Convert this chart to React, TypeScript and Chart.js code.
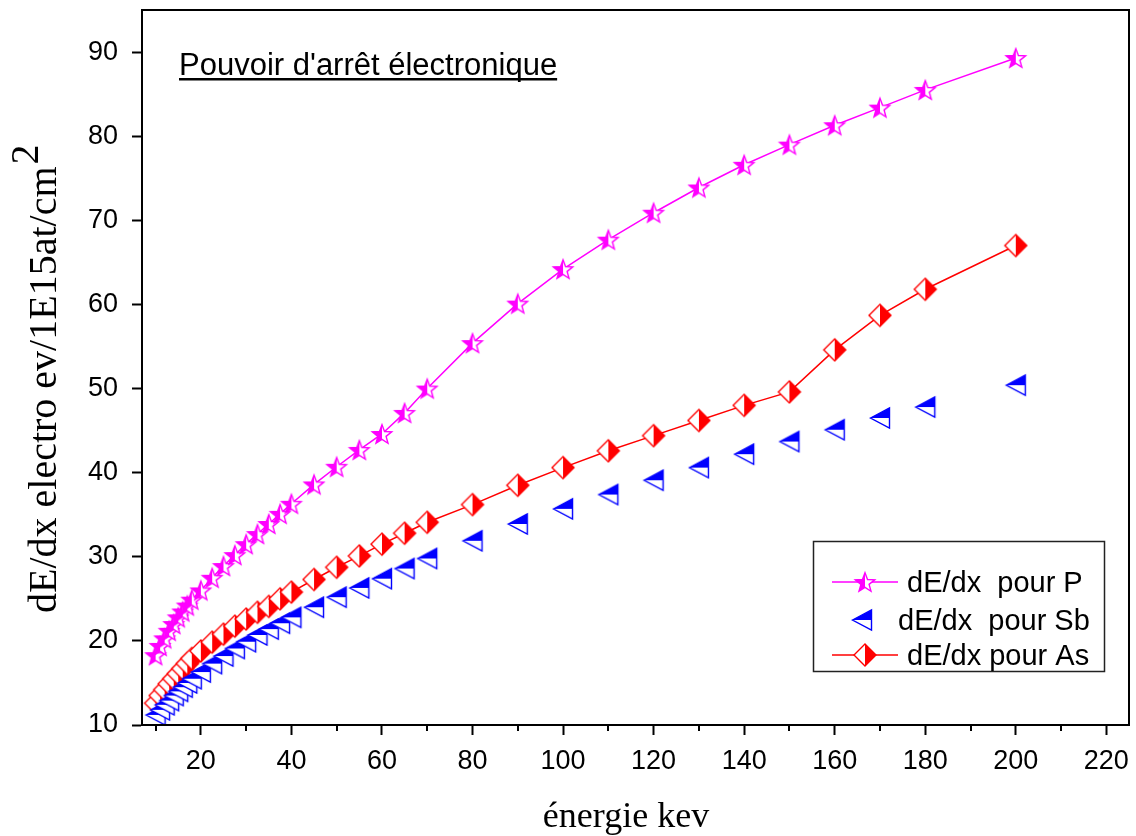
import React, { useEffect, useRef } from 'react';
import { Chart, registerables } from 'chart.js';

Chart.register(...registerables);

// Energies (keV) at which the stopping powers were tabulated
const energies = [10, 11, 12, 13, 14, 15, 16, 17, 18, 20, 22.5, 25, 27.5, 30, 32.5, 35, 37.5, 40, 45, 50, 55, 60, 65, 70, 80, 90, 100, 110, 120, 130, 140, 150, 160, 170, 180, 200];

// Electronic stopping power (eV / 1E15 at/cm2)
const stopP = [18.3, 19.4, 20.3, 21.2, 22.0, 22.8, 23.5, 24.2, 24.9, 26.0, 27.5, 28.9, 30.2, 31.5, 32.7, 33.9, 35.1, 36.3, 38.6, 40.7, 42.7, 44.6, 47.1, 50.0, 55.4, 60.1, 64.2, 67.7, 70.9, 73.9, 76.6, 79.0, 81.3, 83.4, 85.5, 89.3];
const stopSb = [11.2, 11.8, 12.4, 12.9, 13.5, 14.0, 14.5, 15.0, 15.5, 16.3, 17.3, 18.2, 19.1, 19.9, 20.7, 21.4, 22.1, 22.8, 24.0, 25.2, 26.3, 27.4, 28.6, 29.8, 31.9, 33.9, 35.7, 37.4, 39.1, 40.6, 42.2, 43.7, 45.1, 46.5, 47.8, 50.4];
const stopAs = [12.6, 13.5, 14.2, 14.9, 15.5, 16.1, 16.7, 17.3, 17.9, 18.8, 19.85, 20.8, 21.75, 22.6, 23.4, 24.1, 25.0, 25.8, 27.3, 28.75, 30.1, 31.5, 32.8, 34.1, 36.2, 38.5, 40.6, 42.6, 44.4, 46.2, 48.0, 49.6, 54.6, 58.7, 61.8, 67.0];

const xTickValues = [20, 40, 60, 80, 100, 120, 140, 160, 180, 200, 220];
const xMinorTickValues = [10, 30, 50, 70, 90, 110, 130, 150, 170, 190, 210];
const yTickValues = [10, 20, 30, 40, 50, 60, 70, 80, 90];

const seriesLabels = ['dE/dx  pour P', 'dE/dx  pour Sb', 'dE/dx pour As'];
const chartTitle = "Pouvoir d'arrêt électronique";
const xAxisTitle = 'énergie kev';
const yAxisTitle = 'dE/dx electro ev/1E15at/cm';
const yAxisTitleSup = '2';

const MAGENTA = '#ff00ff';
const BLUE = '#0000ff';
const RED = '#ff0000';
const SANS = '"Liberation Sans", Arial, sans-serif';
const SERIF = '"Liberation Serif", "Times New Roman", serif';

type Drawer = (ctx: CanvasRenderingContext2D, c: number) => void;

function halfMarker(size: number, path: Drawer, color: string, clip: (ctx: CanvasRenderingContext2D, c: number) => void) {
  const cv = document.createElement('canvas');
  cv.width = size;
  cv.height = size;
  const ctx = cv.getContext('2d')!;
  const c = size / 2;
  path(ctx, c);
  ctx.fillStyle = '#ffffff';
  ctx.fill();
  ctx.save();
  clip(ctx, c);
  path(ctx, c);
  ctx.fillStyle = color;
  ctx.fill();
  ctx.restore();
  path(ctx, c);
  ctx.strokeStyle = color;
  ctx.lineWidth = 1.4;
  ctx.lineJoin = 'miter';
  ctx.stroke();
  return cv;
}

const starPath: Drawer = (ctx, c) => {
  const R = 10.2;
  const r = 4.3;
  const cy = c + 1;
  ctx.beginPath();
  for (let i = 0; i < 10; i++) {
    const a = -Math.PI / 2 + (i * Math.PI) / 5;
    const rad = i % 2 === 0 ? R : r;
    const x = c + rad * Math.cos(a);
    const y = cy + rad * Math.sin(a);
    if (i === 0) ctx.moveTo(x, y);
    else ctx.lineTo(x, y);
  }
  ctx.closePath();
};

const trianglePath: Drawer = (ctx, c) => {
  ctx.beginPath();
  ctx.moveTo(c - 9.5, c);
  ctx.lineTo(c + 9.5, c - 10);
  ctx.lineTo(c + 9.5, c + 10);
  ctx.closePath();
};

const diamondPath: Drawer = (ctx, c) => {
  ctx.beginPath();
  ctx.moveTo(c, c - 11);
  ctx.lineTo(c + 11, c);
  ctx.lineTo(c, c + 11);
  ctx.lineTo(c - 11, c);
  ctx.closePath();
};

function makeMarkers() {
  const size = 28;
  const star = halfMarker(size, starPath, MAGENTA, (ctx, c) => {
    ctx.beginPath();
    ctx.rect(0, 0, c, size);
    ctx.clip();
  });
  const tri = halfMarker(size, trianglePath, BLUE, (ctx, c) => {
    ctx.beginPath();
    ctx.rect(0, 0, size, c);
    ctx.clip();
  });
  const dia = halfMarker(size, diamondPath, RED, (ctx, c) => {
    ctx.beginPath();
    ctx.rect(c, 0, size, size);
    ctx.clip();
  });
  return { star, tri, dia };
}

export default function App() {
  const canvasRef = useRef<HTMLCanvasElement | null>(null);

  useEffect(() => {
    const canvas = canvasRef.current;
    if (!canvas) return;
    const { star, tri, dia } = makeMarkers();
    const toPoints = (ys: number[]) => energies.map((x, i) => ({ x, y: ys[i] }));

    const decor = {
      id: 'decor',
      afterDraw(chart: any) {
        const { ctx, chartArea: a, scales } = chart;
        ctx.save();
        // plot frame
        ctx.strokeStyle = '#000';
        ctx.lineWidth = 2;
        ctx.strokeRect(a.left, a.top, a.right - a.left, a.bottom - a.top);
        // minor ticks on the energy axis
        ctx.beginPath();
        xMinorTickValues.forEach((v) => {
          const px = Math.round(scales.x.getPixelForValue(v));
          ctx.moveTo(px, a.bottom);
          ctx.lineTo(px, a.bottom + 6);
        });
        ctx.stroke();

        // title, underlined
        ctx.fillStyle = '#000';
        ctx.font = `31px ${SANS}`;
        ctx.textAlign = 'left';
        ctx.textBaseline = 'alphabetic';
        ctx.fillText(chartTitle, 179, 75);
        const tw = ctx.measureText(chartTitle).width;
        ctx.fillRect(179, 78, tw, 2.5);

        // x axis title
        ctx.font = `36px ${SERIF}`;
        ctx.textAlign = 'center';
        ctx.fillText(xAxisTitle, 626, 827);

        // y axis title with superscript
        ctx.save();
        ctx.translate(56, 613);
        ctx.rotate(-Math.PI / 2);
        ctx.font = `40px ${SERIF}`;
        ctx.textAlign = 'left';
        ctx.fillText(yAxisTitle, 0, 0);
        const yw = ctx.measureText(yAxisTitle).width;
        ctx.fillText(yAxisTitleSup, yw + 2, -18);
        ctx.restore();

        // legend
        ctx.lineWidth = 1.5;
        ctx.strokeStyle = '#222';
        ctx.strokeRect(813.5, 541.5, 291, 130);
        ctx.font = `29px ${SANS}`;
        ctx.textAlign = 'left';
        ctx.textBaseline = 'middle';
        const rows = [
          { y: 582, line: MAGENTA, img: star, mx: 865, tx: 907 },
          { y: 620, line: null, img: tri, mx: 862, tx: 898 },
          { y: 655, line: RED, img: dia, mx: 865, tx: 907 },
        ];
        rows.forEach((r, i) => {
          if (r.line) {
            ctx.strokeStyle = r.line;
            ctx.lineWidth = 1.5;
            ctx.beginPath();
            ctx.moveTo(832, r.y);
            ctx.lineTo(898, r.y);
            ctx.stroke();
          }
          ctx.drawImage(r.img, r.mx - r.img.width / 2, r.y - r.img.height / 2);
          ctx.fillStyle = '#000';
          ctx.fillText(seriesLabels[i], r.tx, r.y + 2);
        });
        ctx.restore();
      },
    };

    const chart = new Chart(canvas, {
      type: 'scatter',
      data: {
        datasets: [
          {
            label: seriesLabels[0],
            data: toPoints(stopP),
            showLine: true,
            borderColor: MAGENTA,
            borderWidth: 1.5,
            pointStyle: star,
            pointRadius: 10,
          },
          {
            label: seriesLabels[1],
            data: toPoints(stopSb),
            showLine: false,
            borderColor: BLUE,
            pointStyle: tri,
            pointRadius: 10,
          },
          {
            label: seriesLabels[2],
            data: toPoints(stopAs),
            showLine: true,
            borderColor: RED,
            borderWidth: 1.5,
            pointStyle: dia,
            pointRadius: 10,
          },
        ],
      },
      options: {
        responsive: false,
        animation: false,
        devicePixelRatio: 1,
        layout: { autoPadding: false, padding: { left: 0, top: 10, right: 7, bottom: 0 } },
        plugins: {
          legend: { display: false },
          tooltip: { enabled: false },
        },
        scales: {
          x: {
            type: 'linear',
            min: 7,
            max: 225,
            afterBuildTicks: (axis: any) => {
              axis.ticks = xTickValues.map((v) => ({ value: v }));
            },
            afterFit: (axis: any) => {
              axis.height = 111;
              axis.paddingLeft = 0;
              axis.paddingRight = 0;
            },
            grid: {
              drawOnChartArea: false,
              drawTicks: true,
              tickLength: 10,
              tickWidth: 2,
              tickColor: '#000',
            },
            border: { display: true, color: '#000', width: 2 },
            ticks: {
              color: '#000',
              padding: 10,
              maxRotation: 0,
              autoSkip: false,
              font: { family: SANS, size: 27 },
            },
          },
          y: {
            type: 'linear',
            min: 10,
            max: 95,
            afterBuildTicks: (axis: any) => {
              axis.ticks = yTickValues.map((v) => ({ value: v }));
            },
            afterFit: (axis: any) => {
              axis.width = 142;
              axis.paddingTop = 0;
              axis.paddingBottom = 0;
            },
            grid: {
              drawOnChartArea: false,
              drawTicks: true,
              tickLength: 10,
              tickWidth: 2,
              tickColor: '#000',
            },
            border: { display: true, color: '#000', width: 2 },
            ticks: {
              color: '#000',
              padding: 14,
              autoSkip: false,
              font: { family: SANS, size: 27 },
            },
          },
        },
      },
      plugins: [decor],
    } as any);

    return () => chart.destroy();
  }, []);

  return (
    <div style={{ position: 'absolute', left: 0, top: 0, width: 1136, height: 836, background: '#fff' }}>
      <canvas ref={canvasRef} width={1136} height={836} />
    </div>
  );
}
